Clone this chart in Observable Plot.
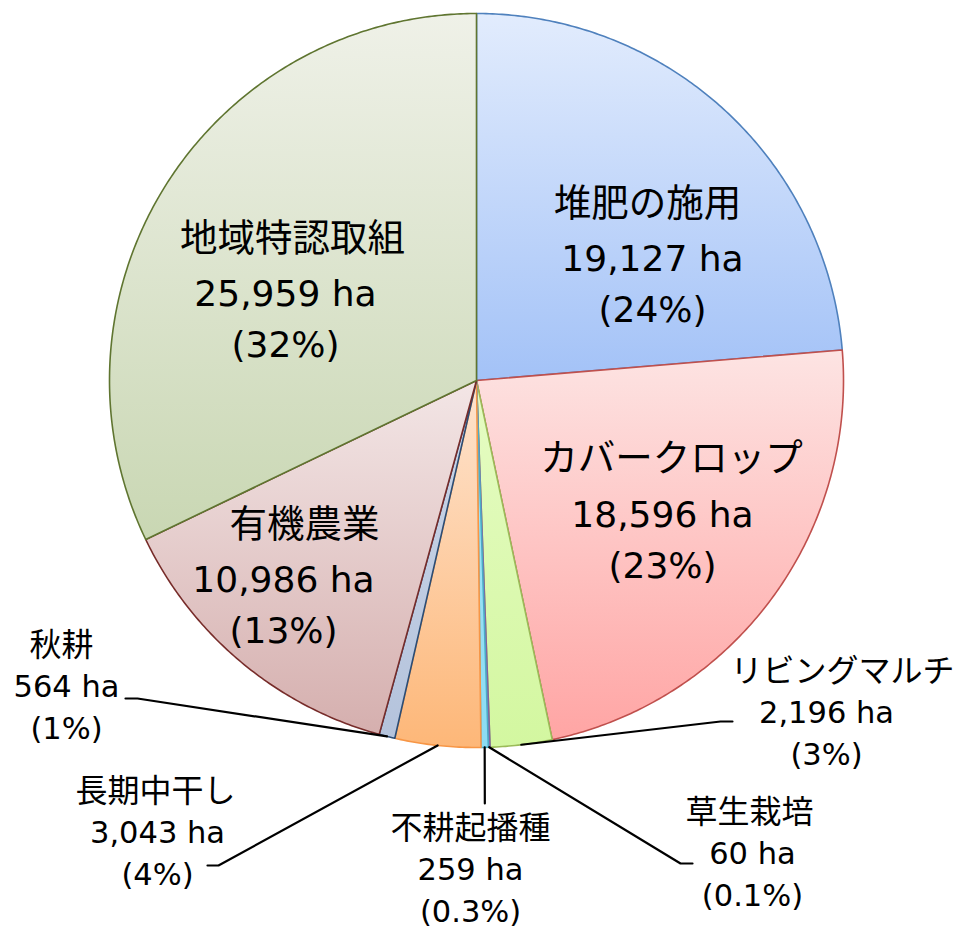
<!DOCTYPE html>
<html><head><meta charset="utf-8">
<script src="https://cdn.jsdelivr.net/npm/d3@7"></script>
<script src="https://cdn.jsdelivr.net/npm/@observablehq/plot@0.6"></script>
<style>body{margin:0;background:#fff}</style>
</head><body><div id="chart"></div>
<script>
// ---- data ----
const categories = ["堆肥の施用","カバークロップ","リビングマルチ","草生栽培","不耕起播種","長期中干し","秋耕","有機農業","地域特認取組"];
const areas = [19127, 18596, 2196, 60, 259, 3043, 564, 10986, 25959];
const shareLabels = ["24%","23%","3%","0.1%","0.3%","4%","1%","13%","32%"];

// ---- styles ----
const gradTop    = ["#e2ecfd","#fde4e3","#e6fcc4","#c9b8e0","#a4e6f8","#fee4cf","#cdd7e8","#f3e6e6","#eff1e8"];
const gradBottom = ["#a3c2f7","#ffa5a4","#d3f7a0","#b39fd2","#8cdcf3","#fdb778","#b4c3dc","#d5afae","#c9d7b3"];
const borders    = ["#4f81bd","#c0504d","#9bbb59","#8064a2","#4bacc6","#f79646","#2c4d75","#772c2a","#5f7530"];

// ---- layout (units of pie radius, centre = 0,0) ----
const R = 367, CX = 476, CY = 380, W = 955, H = 929;
const labelLayout = [
  {inside:true,  u: 0.4796, v: 0.3297, nameShift:-5},
  {inside:true,  u: 0.5068, v:-0.3678, nameShift:9},
  {inside:false, u: 0.9537, v:-0.9074, nameShift:16, leader:[[0.6649,-0.9292],[0.6975,-0.9292]]},
  {inside:false, u: 0.7520, v:-1.2916, nameShift:-3, leader:[[0.5559,-1.3161],[0.5886,-1.3161]]},
  {inside:false, u:-0.0163, v:-1.3351, nameShift:0,  leader:[[0.0227,-1.1526]]},
  {inside:false, u:-0.8692, v:-1.2343, nameShift:-2, leader:[[-0.7030,-1.3215],[-0.7330,-1.3215]]},
  {inside:false, u:-1.1172, v:-0.8365, nameShift:-5, leader:[[-0.9237,-0.8665],[-0.9564,-0.8665]]},
  {inside:true,  u:-0.5259, v:-0.5450, nameShift:21},
  {inside:true,  u:-0.5204, v: 0.2343, nameShift:7}
];

const arcs = d3.pie().sort(null).value(d => d)(areas);
const slices = arcs.map((a, i) => {
  const step = Math.PI / 360;
  const n = Math.max(2, Math.ceil((a.endAngle - a.startAngle) / step));
  const pts = [{x:0, y:0}];
  for (let k = 0; k <= n; k++) {
    const t = a.startAngle + (a.endAngle - a.startAngle) * k / n;
    pts.push({x: Math.sin(t), y: Math.cos(t)});
  }
  pts.push({x:0, y:0});
  return {i, pts, mid: (a.startAngle + a.endAngle) / 2};
});

const labels = categories.map((name, i) => ({
  name, value: d3.format(",")(areas[i]) + " ha", pct: "(" + shareLabels[i] + ")",
  ...labelLayout[i]
}));

const leaderPts = [];
labels.forEach((d, i) => {
  if (!d.leader) return;
  const m = slices[i].mid;
  leaderPts.push({k:i, x: Math.sin(m), y: Math.cos(m)});
  d.leader.forEach(p => leaderPts.push({k:i, x:p[0], y:p[1]}));
});

const inside = labels.filter(d => d.inside);
const outside = labels.filter(d => !d.inside);
const latin = "DejaVu Sans, Verdana, sans-serif";
const jp = "Noto Sans CJK JP, sans-serif";

const textMarks = (data, fsName, fsVal, gap1, gap2) => [
  Plot.text(data, {x: d => d.u + d.nameShift / R, y: "v", dy: -gap1, text: "name", fontSize: fsName, fontFamily: jp, fill: "black"}),
  Plot.text(data, {x: "u", y: "v", text: "value", fontSize: fsVal, fontFamily: latin, fill: "black"}),
  Plot.text(data, {x: "u", y: "v", dy: gap2, text: "pct", fontSize: fsVal, fontFamily: latin, fill: "black"})
];

const svg = Plot.plot({
  width: W, height: H, margin: 0,
  x: {domain: [-CX / R, (W - CX) / R], axis: null},
  y: {domain: [-(H - CY) / R, CY / R], axis: null},
  style: {background: "white", color: "black", overflow: "visible"},
  marks: [
    ...slices.map(s => Plot.line(s.pts, {x: "x", y: "y", curve: "linear",
      fill: `url(#grad${s.i})`, stroke: borders[s.i], strokeWidth: 1.6})),
    Plot.line(leaderPts, {x: "x", y: "y", z: "k", stroke: "black", strokeWidth: 2.2, curve: "linear"}),
    ...textMarks(inside, 37.5, 36, 56, 51),
    ...textMarks(outside, 32, 30.5, 42, 42)
  ]
});

const defs = d3.select(svg).insert("defs", ":first-child");
gradTop.forEach((c, i) => {
  const g = defs.append("linearGradient").attr("id", "grad" + i)
    .attr("x1", 0).attr("y1", 0).attr("x2", 0).attr("y2", 1);
  g.append("stop").attr("offset", "0%").attr("stop-color", c);
  g.append("stop").attr("offset", "100%").attr("stop-color", gradBottom[i]);
});

document.getElementById("chart").appendChild(svg);
</script>
</body></html>
